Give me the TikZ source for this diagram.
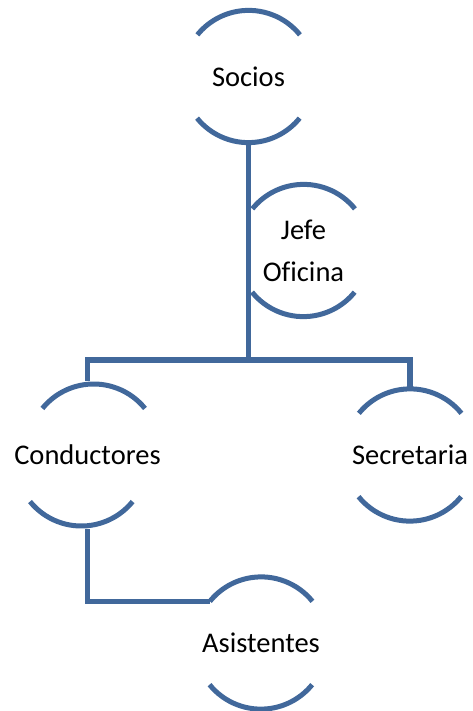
\documentclass[tikz,border=0pt]{standalone}
\usepackage{fontspec}
\setmainfont[Ligatures=NoCommon]{Carlito}
\definecolor{orgblue}{RGB}{65,104,155}
\begin{document}
\begin{tikzpicture}[x=1pt,y=-1pt,
  unit/.style={circle,minimum size=132pt,inner sep=0pt,align=center,
    font=\fontsize{28.5}{42}\selectfont},
  link/.style={draw=orgblue,line width=5.5pt},
  arcs/.style={draw=orgblue,line width=5pt}]
\useasboundingbox (0,0) rectangle (472,711);
\node[unit] (socios) at (248.5,76.5) {Socios};
\node[unit] (jefe) at (303.5,250.5) {Jefe\\Oficina};
\node[unit] (cond) at (87.5,455) {Conductores};
\node[unit] (secr) at (410,455) {Secretaria};
\node[unit] (asis) at (261,643) {Asistentes};
\foreach \n in {socios,jefe,cond,secr,asis}{
  \draw[arcs] (\n.39) arc[start angle=39,end angle=141,radius=66pt];
  \draw[arcs] (\n.219) arc[start angle=219,end angle=321,radius=66pt];
}
\coordinate (bar) at (248.5,360);
\draw[link] (socios.south) -- (bar);
\draw[link,line join=miter] (cond.north) -- (cond.north |- bar) -- (secr.north |- bar) -- (secr.north);
\draw[link,line join=miter] (cond.south) -- (cond.south |- asis.141) -- (asis.141);
\end{tikzpicture}
\end{document}
